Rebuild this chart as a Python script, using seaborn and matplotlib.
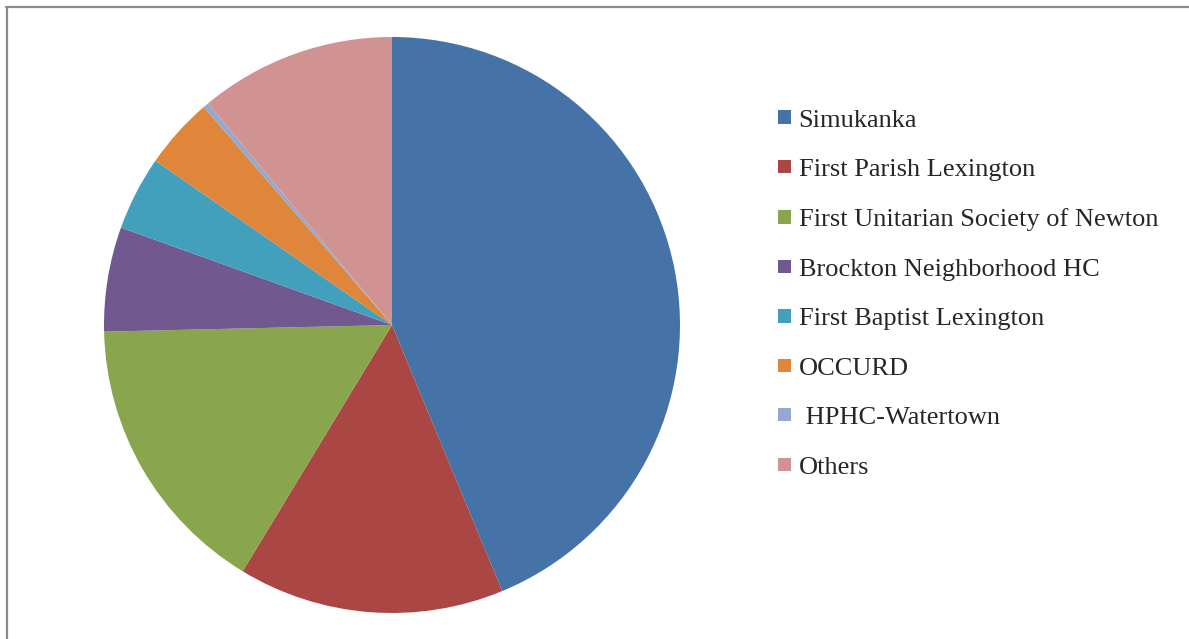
import numpy as np
import matplotlib
matplotlib.use("Agg")
import matplotlib.pyplot as plt
import seaborn as sns
from matplotlib.lines import Line2D

labels = ["Simukanka", "First Parish Lexington", "First Unitarian Society of Newton",
          "Brockton Neighborhood HC", "First Baptist Lexington", "OCCURD",
          " HPHC-Watertown", "Others"]
shares = [43.75, 14.93, 15.96, 5.86, 4.17, 4.00, 0.31, 11.03]
colors = ["#4572A7", "#AA4643", "#89A54E", "#71588F", "#42A0BD", "#E0863A", "#93A9CF", "#D19392"]

sns.set_theme(style="white")
plt.rcParams["font.family"] = ["Liberation Serif", "DejaVu Serif"]
palette = sns.color_palette(colors)

fig = plt.figure(figsize=(11.89, 6.39), dpi=100)
fig.patch.set_facecolor("white")

# pie axes, square in pixels
ax = fig.add_axes([104 / 1189, 26 / 639, 576 / 1189, 576 / 639])
wedges, _ = ax.pie(shares, colors=palette, startangle=90, counterclock=False,
                   wedgeprops=dict(linewidth=0))
ax.set_xlim(-1, 1)
ax.set_ylim(-1, 1)
ax.set_aspect("equal")
ax.axis("off")

fig.legend(wedges, labels, loc="upper left", bbox_to_anchor=(767 / 1189, 1 - 99 / 639),
           frameon=False, fontsize=19, handlelength=0.5, handleheight=0.4,
           handletextpad=0.3, labelspacing=1.04, borderaxespad=0)

# grey frame on top and left edges
fig.add_artist(Line2D([6 / 1189, 1], [1 - 7 / 639, 1 - 7 / 639], color="#8a8a8a", lw=1.6))
fig.add_artist(Line2D([7 / 1189, 7 / 1189], [0, 1 - 7 / 639], color="#8a8a8a", lw=1.6))

fig.savefig("out.png", dpi=100)
